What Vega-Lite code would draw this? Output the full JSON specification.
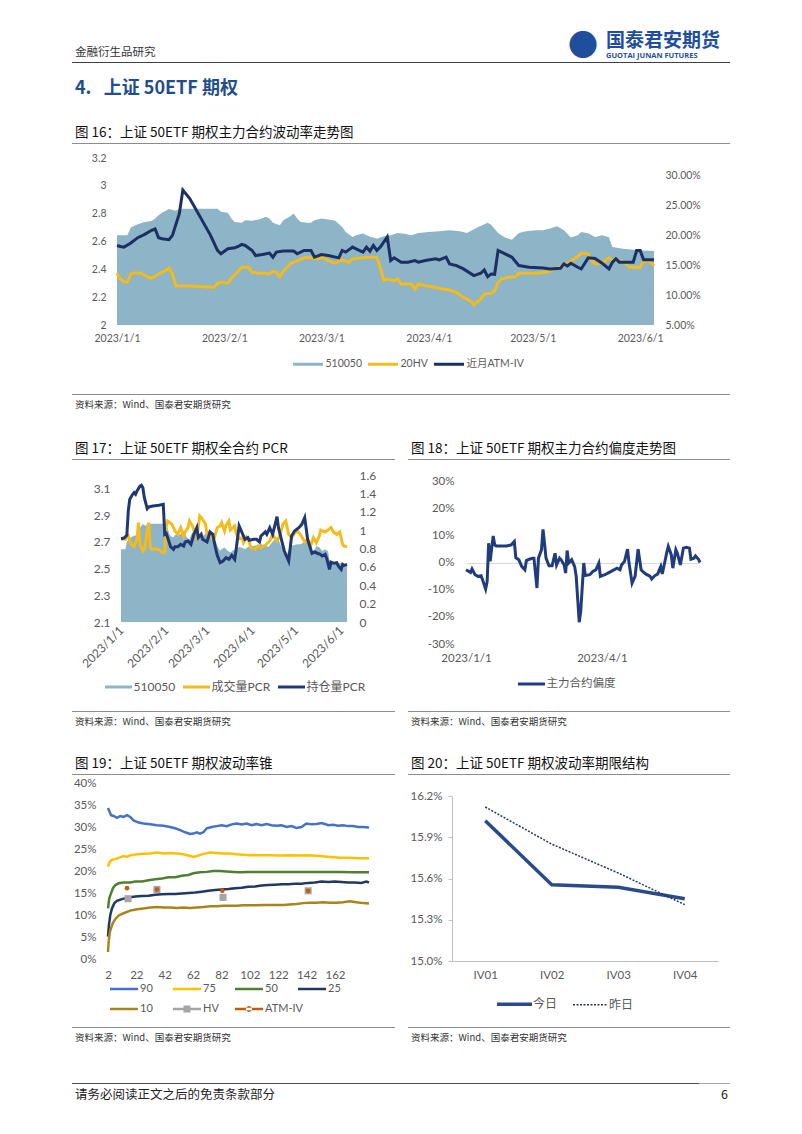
{
"$schema": "https://vega.github.io/schema/vega-lite/v6.json",
"background": "white",
"padding": {"left": 72, "top": 31, "right": 20, "bottom": 10},
"bounds": "flush",
"spacing": 0,
"resolve": {"scale": {"color": "independent", "fill": "independent"}, "legend": {"color": "independent", "fill": "independent"}},
"config": {
 "font": "Lato, 'Noto Sans CJK SC', sans-serif",
 "view": {"stroke": null},
 "axis": {"grid": false, "ticks": false, "domain": false, "labelColor": "#595959", "labelFont": "Lato, 'Noto Sans CJK SC', sans-serif", "labelFlush": false, "labelOverlap": false, "labelBound": false},
 "legend": {"labelColor": "#404040", "labelFont": "Lato, 'Noto Sans CJK SC', sans-serif"},
 "title": {"font": "'Noto Sans CJK SC', sans-serif", "subtitleFont": "'Noto Sans CJK SC', sans-serif", "anchor": "start", "frame": "group", "color": "#111111", "fontWeight": "normal"}
},
"datasets": {
 "etf": [
  {"d":"2023-01-01","v":2.645},{"d":"2023-01-04","v":2.645},{"d":"2023-01-05","v":2.70},{"d":"2023-01-07","v":2.724},{"d":"2023-01-09","v":2.741},{"d":"2023-01-11","v":2.748},{"d":"2023-01-12","v":2.765},{"d":"2023-01-13","v":2.789},{"d":"2023-01-14","v":2.806},{"d":"2023-01-16","v":2.833},{"d":"2023-01-18","v":2.821},{"d":"2023-01-19","v":2.835},{"d":"2023-01-30","v":2.835},{"d":"2023-01-31","v":2.813},
  {"d":"2023-02-02","v":2.806},{"d":"2023-02-03","v":2.765},{"d":"2023-02-04","v":2.741},{"d":"2023-02-06","v":2.734},{"d":"2023-02-07","v":2.753},{"d":"2023-02-09","v":2.75},{"d":"2023-02-11","v":2.758},{"d":"2023-02-13","v":2.777},{"d":"2023-02-14","v":2.765},{"d":"2023-02-15","v":2.734},{"d":"2023-02-17","v":2.717},{"d":"2023-02-18","v":2.753},{"d":"2023-02-20","v":2.782},{"d":"2023-02-21","v":2.801},{"d":"2023-02-22","v":2.765},{"d":"2023-02-23","v":2.741},{"d":"2023-02-25","v":2.734},{"d":"2023-02-26","v":2.734},{"d":"2023-02-27","v":2.753},
  {"d":"2023-03-01","v":2.765},{"d":"2023-03-03","v":2.758},{"d":"2023-03-05","v":2.75},{"d":"2023-03-07","v":2.705},{"d":"2023-03-08","v":2.669},{"d":"2023-03-10","v":2.632},{"d":"2023-03-11","v":2.645},{"d":"2023-03-13","v":2.657},{"d":"2023-03-15","v":2.635},{"d":"2023-03-16","v":2.628},{"d":"2023-03-17","v":2.62},{"d":"2023-03-19","v":2.637},{"d":"2023-03-21","v":2.645},{"d":"2023-03-23","v":2.661},{"d":"2023-03-25","v":2.655},{"d":"2023-03-27","v":2.645},{"d":"2023-03-29","v":2.661},
  {"d":"2023-04-01","v":2.669},{"d":"2023-04-04","v":2.674},{"d":"2023-04-07","v":2.681},{"d":"2023-04-10","v":2.674},{"d":"2023-04-12","v":2.661},{"d":"2023-04-15","v":2.70},{"d":"2023-04-18","v":2.734},{"d":"2023-04-19","v":2.72},{"d":"2023-04-21","v":2.661},{"d":"2023-04-23","v":2.628},{"d":"2023-04-25","v":2.613},{"d":"2023-04-27","v":2.661},{"d":"2023-04-29","v":2.674},
  {"d":"2023-05-02","v":2.681},{"d":"2023-05-04","v":2.681},{"d":"2023-05-06","v":2.693},{"d":"2023-05-08","v":2.71},{"d":"2023-05-10","v":2.681},{"d":"2023-05-12","v":2.628},{"d":"2023-05-14","v":2.645},{"d":"2023-05-15","v":2.669},{"d":"2023-05-17","v":2.66},{"d":"2023-05-19","v":2.632},{"d":"2023-05-21","v":2.645},{"d":"2023-05-23","v":2.63},{"d":"2023-05-24","v":2.56},{"d":"2023-05-27","v":2.548},{"d":"2023-05-30","v":2.541},{"d":"2023-06-02","v":2.536},{"d":"2023-06-05","v":2.531}
 ],
 "c16": [
  {"d":"2023-01-01","s":"20HV","v":0.1367},{"d":"2023-01-02","s":"20HV","v":0.1271},{"d":"2023-01-03","s":"20HV","v":0.1226},{"d":"2023-01-04","s":"20HV","v":0.1215},{"d":"2023-01-05","s":"20HV","v":0.1356},{"d":"2023-01-06","s":"20HV","v":0.1373},{"d":"2023-01-08","s":"20HV","v":0.1367},{"d":"2023-01-09","s":"20HV","v":0.133},{"d":"2023-01-10","s":"20HV","v":0.130},{"d":"2023-01-11","s":"20HV","v":0.1283},{"d":"2023-01-13","s":"20HV","v":0.1356},{"d":"2023-01-15","s":"20HV","v":0.1412},{"d":"2023-01-16","s":"20HV","v":0.1457},{"d":"2023-01-17","s":"20HV","v":0.1356},{"d":"2023-01-18","s":"20HV","v":0.1159},{"d":"2023-01-22","s":"20HV","v":0.1153},{"d":"2023-01-26","s":"20HV","v":0.1142},{"d":"2023-01-29","s":"20HV","v":0.1131},{"d":"2023-01-30","s":"20HV","v":0.1198},{"d":"2023-01-31","s":"20HV","v":0.1215},
  {"d":"2023-02-02","s":"20HV","v":0.120},{"d":"2023-02-03","s":"20HV","v":0.1283},{"d":"2023-02-05","s":"20HV","v":0.140},{"d":"2023-02-06","s":"20HV","v":0.1468},{"d":"2023-02-08","s":"20HV","v":0.1468},{"d":"2023-02-09","s":"20HV","v":0.1384},{"d":"2023-02-11","s":"20HV","v":0.1367},{"d":"2023-02-13","s":"20HV","v":0.1367},{"d":"2023-02-14","s":"20HV","v":0.1356},{"d":"2023-02-15","s":"20HV","v":0.140},{"d":"2023-02-16","s":"20HV","v":0.1384},{"d":"2023-02-17","s":"20HV","v":0.131},{"d":"2023-02-18","s":"20HV","v":0.140},{"d":"2023-02-20","s":"20HV","v":0.1525},{"d":"2023-02-22","s":"20HV","v":0.1581},{"d":"2023-02-24","s":"20HV","v":0.1626},{"d":"2023-02-26","s":"20HV","v":0.1626},{"d":"2023-02-28","s":"20HV","v":0.1609},
  {"d":"2023-03-01","s":"20HV","v":0.1637},{"d":"2023-03-03","s":"20HV","v":0.1581},{"d":"2023-03-05","s":"20HV","v":0.1536},{"d":"2023-03-07","s":"20HV","v":0.1592},{"d":"2023-03-09","s":"20HV","v":0.1553},{"d":"2023-03-10","s":"20HV","v":0.1609},{"d":"2023-03-13","s":"20HV","v":0.1626},{"d":"2023-03-15","s":"20HV","v":0.1637},{"d":"2023-03-17","s":"20HV","v":0.1637},{"d":"2023-03-18","s":"20HV","v":0.1468},{"d":"2023-03-19","s":"20HV","v":0.1243},{"d":"2023-03-20","s":"20HV","v":0.1271},{"d":"2023-03-22","s":"20HV","v":0.1243},{"d":"2023-03-23","s":"20HV","v":0.1271},{"d":"2023-03-24","s":"20HV","v":0.1187},{"d":"2023-03-26","s":"20HV","v":0.1187},{"d":"2023-03-27","s":"20HV","v":0.1187},{"d":"2023-03-28","s":"20HV","v":0.1103},{"d":"2023-03-29","s":"20HV","v":0.1187},{"d":"2023-03-31","s":"20HV","v":0.1159},
  {"d":"2023-04-02","s":"20HV","v":0.1142},{"d":"2023-04-05","s":"20HV","v":0.1103},{"d":"2023-04-07","s":"20HV","v":0.1086},{"d":"2023-04-09","s":"20HV","v":0.1046},{"d":"2023-04-11","s":"20HV","v":0.0962},{"d":"2023-04-13","s":"20HV","v":0.0905},{"d":"2023-04-14","s":"20HV","v":0.0838},{"d":"2023-04-16","s":"20HV","v":0.0933},{"d":"2023-04-17","s":"20HV","v":0.1018},{"d":"2023-04-19","s":"20HV","v":0.103},{"d":"2023-04-20","s":"20HV","v":0.1074},{"d":"2023-04-21","s":"20HV","v":0.1215},{"d":"2023-04-22","s":"20HV","v":0.1271},{"d":"2023-04-24","s":"20HV","v":0.130},{"d":"2023-04-26","s":"20HV","v":0.131},{"d":"2023-04-27","s":"20HV","v":0.1367},{"d":"2023-04-29","s":"20HV","v":0.1367},
  {"d":"2023-05-02","s":"20HV","v":0.1367},{"d":"2023-05-05","s":"20HV","v":0.1384},{"d":"2023-05-08","s":"20HV","v":0.1457},{"d":"2023-05-10","s":"20HV","v":0.1496},{"d":"2023-05-12","s":"20HV","v":0.157},{"d":"2023-05-14","s":"20HV","v":0.1649},{"d":"2023-05-15","s":"20HV","v":0.1705},{"d":"2023-05-17","s":"20HV","v":0.1694},{"d":"2023-05-18","s":"20HV","v":0.1581},{"d":"2023-05-19","s":"20HV","v":0.1525},{"d":"2023-05-21","s":"20HV","v":0.154},{"d":"2023-05-23","s":"20HV","v":0.1626},{"d":"2023-05-24","s":"20HV","v":0.1581},{"d":"2023-05-27","s":"20HV","v":0.157},{"d":"2023-05-29","s":"20HV","v":0.1468},{"d":"2023-06-01","s":"20HV","v":0.1468},{"d":"2023-06-02","s":"20HV","v":0.1581},{"d":"2023-06-04","s":"20HV","v":0.1553},{"d":"2023-06-05","s":"20HV","v":0.1496},
  {"d":"2023-01-01","s":"近月ATM-IV","v":0.1834},{"d":"2023-01-02","s":"近月ATM-IV","v":0.1817},{"d":"2023-01-03","s":"近月ATM-IV","v":0.1806},{"d":"2023-01-05","s":"近月ATM-IV","v":0.1874},{"d":"2023-01-07","s":"近月ATM-IV","v":0.1964},{"d":"2023-01-09","s":"近月ATM-IV","v":0.202},{"d":"2023-01-11","s":"近月ATM-IV","v":0.2088},{"d":"2023-01-12","s":"近月ATM-IV","v":0.211},{"d":"2023-01-13","s":"近月ATM-IV","v":0.1964},{"d":"2023-01-14","s":"近月ATM-IV","v":0.1947},{"d":"2023-01-16","s":"近月ATM-IV","v":0.193},{"d":"2023-01-17","s":"近月ATM-IV","v":0.2003},{"d":"2023-01-19","s":"近月ATM-IV","v":0.2369},{"d":"2023-01-20","s":"近月ATM-IV","v":0.2763},{"d":"2023-01-22","s":"近月ATM-IV","v":0.262},{"d":"2023-01-25","s":"近月ATM-IV","v":0.2313},{"d":"2023-01-28","s":"近月ATM-IV","v":0.2003},{"d":"2023-01-30","s":"近月ATM-IV","v":0.175},{"d":"2023-01-31","s":"近月ATM-IV","v":0.1694},
  {"d":"2023-02-02","s":"近月ATM-IV","v":0.1778},{"d":"2023-02-04","s":"近月ATM-IV","v":0.1795},{"d":"2023-02-05","s":"近月ATM-IV","v":0.1817},{"d":"2023-02-06","s":"近月ATM-IV","v":0.1851},{"d":"2023-02-07","s":"近月ATM-IV","v":0.1834},{"d":"2023-02-09","s":"近月ATM-IV","v":0.175},{"d":"2023-02-10","s":"近月ATM-IV","v":0.1665},{"d":"2023-02-12","s":"近月ATM-IV","v":0.1682},{"d":"2023-02-14","s":"近月ATM-IV","v":0.1705},{"d":"2023-02-15","s":"近月ATM-IV","v":0.1637},{"d":"2023-02-16","s":"近月ATM-IV","v":0.1722},{"d":"2023-02-18","s":"近月ATM-IV","v":0.1739},{"d":"2023-02-21","s":"近月ATM-IV","v":0.1739},{"d":"2023-02-22","s":"近月ATM-IV","v":0.1694},{"d":"2023-02-24","s":"近月ATM-IV","v":0.175},{"d":"2023-02-26","s":"近月ATM-IV","v":0.175},{"d":"2023-02-27","s":"近月ATM-IV","v":0.1637},
  {"d":"2023-03-01","s":"近月ATM-IV","v":0.1682},{"d":"2023-03-03","s":"近月ATM-IV","v":0.1665},{"d":"2023-03-06","s":"近月ATM-IV","v":0.1626},{"d":"2023-03-07","s":"近月ATM-IV","v":0.175},{"d":"2023-03-08","s":"近月ATM-IV","v":0.1722},{"d":"2023-03-10","s":"近月ATM-IV","v":0.1806},{"d":"2023-03-11","s":"近月ATM-IV","v":0.1778},{"d":"2023-03-13","s":"近月ATM-IV","v":0.1722},{"d":"2023-03-14","s":"近月ATM-IV","v":0.1806},{"d":"2023-03-15","s":"近月ATM-IV","v":0.1739},{"d":"2023-03-16","s":"近月ATM-IV","v":0.1834},{"d":"2023-03-17","s":"近月ATM-IV","v":0.175},{"d":"2023-03-18","s":"近月ATM-IV","v":0.1806},{"d":"2023-03-20","s":"近月ATM-IV","v":0.1975},{"d":"2023-03-21","s":"近月ATM-IV","v":0.1581},{"d":"2023-03-22","s":"近月ATM-IV","v":0.1626},{"d":"2023-03-24","s":"近月ATM-IV","v":0.1553},{"d":"2023-03-26","s":"近月ATM-IV","v":0.1553},{"d":"2023-03-28","s":"近月ATM-IV","v":0.1581},{"d":"2023-03-29","s":"近月ATM-IV","v":0.1553},{"d":"2023-03-31","s":"近月ATM-IV","v":0.1581},
  {"d":"2023-04-03","s":"近月ATM-IV","v":0.1609},{"d":"2023-04-04","s":"近月ATM-IV","v":0.1592},{"d":"2023-04-06","s":"近月ATM-IV","v":0.1637},{"d":"2023-04-07","s":"近月ATM-IV","v":0.1525},{"d":"2023-04-09","s":"近月ATM-IV","v":0.1496},{"d":"2023-04-11","s":"近月ATM-IV","v":0.144},{"d":"2023-04-14","s":"近月ATM-IV","v":0.1328},{"d":"2023-04-16","s":"近月ATM-IV","v":0.1367},{"d":"2023-04-17","s":"近月ATM-IV","v":0.1423},{"d":"2023-04-18","s":"近月ATM-IV","v":0.131},{"d":"2023-04-19","s":"近月ATM-IV","v":0.1356},{"d":"2023-04-20","s":"近月ATM-IV","v":0.135},{"d":"2023-04-21","s":"近月ATM-IV","v":0.175},{"d":"2023-04-23","s":"近月ATM-IV","v":0.1694},{"d":"2023-04-25","s":"近月ATM-IV","v":0.1637},{"d":"2023-04-27","s":"近月ATM-IV","v":0.1496},{"d":"2023-04-30","s":"近月ATM-IV","v":0.1468},
  {"d":"2023-05-04","s":"近月ATM-IV","v":0.1457},{"d":"2023-05-06","s":"近月ATM-IV","v":0.144},{"d":"2023-05-09","s":"近月ATM-IV","v":0.145},{"d":"2023-05-10","s":"近月ATM-IV","v":0.1525},{"d":"2023-05-11","s":"近月ATM-IV","v":0.149},{"d":"2023-05-12","s":"近月ATM-IV","v":0.1536},{"d":"2023-05-14","s":"近月ATM-IV","v":0.1468},{"d":"2023-05-15","s":"近月ATM-IV","v":0.144},{"d":"2023-05-17","s":"近月ATM-IV","v":0.1626},{"d":"2023-05-19","s":"近月ATM-IV","v":0.1615},{"d":"2023-05-21","s":"近月ATM-IV","v":0.1536},{"d":"2023-05-23","s":"近月ATM-IV","v":0.144},{"d":"2023-05-24","s":"近月ATM-IV","v":0.1553},{"d":"2023-05-25","s":"近月ATM-IV","v":0.1609},{"d":"2023-05-26","s":"近月ATM-IV","v":0.1553},{"d":"2023-05-30","s":"近月ATM-IV","v":0.1553},{"d":"2023-05-31","s":"近月ATM-IV","v":0.175},{"d":"2023-06-01","s":"近月ATM-IV","v":0.175},{"d":"2023-06-02","s":"近月ATM-IV","v":0.1592},{"d":"2023-06-05","s":"近月ATM-IV","v":0.1592}
 ],
 "c17": [
  {"d":"2023-01-01","s":"成交量PCR","v":0.907},{"d":"2023-01-04","s":"成交量PCR","v":0.900},{"d":"2023-01-06","s":"成交量PCR","v":0.936},{"d":"2023-01-08","s":"成交量PCR","v":0.845},{"d":"2023-01-10","s":"成交量PCR","v":0.820},{"d":"2023-01-12","s":"成交量PCR","v":0.907},{"d":"2023-01-13","s":"成交量PCR","v":1.081},{"d":"2023-01-14","s":"成交量PCR","v":0.845},{"d":"2023-01-16","s":"成交量PCR","v":0.773},{"d":"2023-01-17","s":"成交量PCR","v":0.791},{"d":"2023-01-19","s":"成交量PCR","v":0.990},{"d":"2023-01-20","s":"成交量PCR","v":1.081},{"d":"2023-01-21","s":"成交量PCR","v":0.820},{"d":"2023-01-22","s":"成交量PCR","v":0.791},{"d":"2023-01-24","s":"成交量PCR","v":0.798},{"d":"2023-01-27","s":"成交量PCR","v":0.784},{"d":"2023-01-29","s":"成交量PCR","v":0.762},{"d":"2023-01-31","s":"成交量PCR","v":0.755},
  {"d":"2023-02-01","s":"成交量PCR","v":1.045},{"d":"2023-02-02","s":"成交量PCR","v":1.099},{"d":"2023-02-05","s":"成交量PCR","v":1.063},{"d":"2023-02-07","s":"成交量PCR","v":0.990},{"d":"2023-02-09","s":"成交量PCR","v":0.954},{"d":"2023-02-11","s":"成交量PCR","v":1.027},{"d":"2023-02-13","s":"成交量PCR","v":0.936},{"d":"2023-02-14","s":"成交量PCR","v":0.980},{"d":"2023-02-16","s":"成交量PCR","v":1.027},{"d":"2023-02-17","s":"成交量PCR","v":1.099},{"d":"2023-02-19","s":"成交量PCR","v":1.045},{"d":"2023-02-21","s":"成交量PCR","v":0.954},{"d":"2023-02-22","s":"成交量PCR","v":0.918},{"d":"2023-02-24","s":"成交量PCR","v":1.154},{"d":"2023-02-26","s":"成交量PCR","v":1.117},{"d":"2023-02-28","s":"成交量PCR","v":1.063},
  {"d":"2023-03-01","s":"成交量PCR","v":0.954},{"d":"2023-03-03","s":"成交量PCR","v":0.936},{"d":"2023-03-05","s":"成交量PCR","v":0.900},{"d":"2023-03-06","s":"成交量PCR","v":0.918},{"d":"2023-03-08","s":"成交量PCR","v":1.027},{"d":"2023-03-10","s":"成交量PCR","v":1.045},{"d":"2023-03-11","s":"成交量PCR","v":1.081},{"d":"2023-03-13","s":"成交量PCR","v":0.990},{"d":"2023-03-14","s":"成交量PCR","v":1.052},{"d":"2023-03-16","s":"成交量PCR","v":1.099},{"d":"2023-03-17","s":"成交量PCR","v":1.001},{"d":"2023-03-20","s":"成交量PCR","v":1.045},{"d":"2023-03-21","s":"成交量PCR","v":0.965},{"d":"2023-03-23","s":"成交量PCR","v":0.907},{"d":"2023-03-25","s":"成交量PCR","v":0.918},{"d":"2023-03-26","s":"成交量PCR","v":0.863},{"d":"2023-03-28","s":"成交量PCR","v":0.925},{"d":"2023-03-30","s":"成交量PCR","v":0.871},{"d":"2023-03-31","s":"成交量PCR","v":0.809},
  {"d":"2023-04-03","s":"成交量PCR","v":0.791},{"d":"2023-04-05","s":"成交量PCR","v":0.827},{"d":"2023-04-07","s":"成交量PCR","v":0.809},{"d":"2023-04-10","s":"成交量PCR","v":0.834},{"d":"2023-04-13","s":"成交量PCR","v":0.882},{"d":"2023-04-15","s":"成交量PCR","v":0.954},{"d":"2023-04-18","s":"成交量PCR","v":0.882},{"d":"2023-04-20","s":"成交量PCR","v":0.943},{"d":"2023-04-22","s":"成交量PCR","v":1.063},{"d":"2023-04-24","s":"成交量PCR","v":1.099},{"d":"2023-04-26","s":"成交量PCR","v":0.954},{"d":"2023-04-28","s":"成交量PCR","v":0.918},{"d":"2023-04-30","s":"成交量PCR","v":0.965},
  {"d":"2023-05-02","s":"成交量PCR","v":0.990},{"d":"2023-05-04","s":"成交量PCR","v":0.954},{"d":"2023-05-07","s":"成交量PCR","v":0.871},{"d":"2023-05-09","s":"成交量PCR","v":0.900},{"d":"2023-05-11","s":"成交量PCR","v":0.827},{"d":"2023-05-13","s":"成交量PCR","v":0.918},{"d":"2023-05-15","s":"成交量PCR","v":0.863},{"d":"2023-05-17","s":"成交量PCR","v":0.936},{"d":"2023-05-18","s":"成交量PCR","v":1.001},{"d":"2023-05-21","s":"成交量PCR","v":0.980},{"d":"2023-05-23","s":"成交量PCR","v":1.001},{"d":"2023-05-25","s":"成交量PCR","v":1.027},{"d":"2023-05-27","s":"成交量PCR","v":0.973},{"d":"2023-05-29","s":"成交量PCR","v":0.954},{"d":"2023-05-31","s":"成交量PCR","v":0.980},{"d":"2023-06-02","s":"成交量PCR","v":0.845},{"d":"2023-06-03","s":"成交量PCR","v":0.827},{"d":"2023-06-05","s":"成交量PCR","v":0.820},
  {"d":"2023-01-01","s":"持仓量PCR","v":0.907},{"d":"2023-01-03","s":"持仓量PCR","v":0.914},{"d":"2023-01-05","s":"持仓量PCR","v":0.943},{"d":"2023-01-06","s":"持仓量PCR","v":1.208},{"d":"2023-01-07","s":"持仓量PCR","v":1.335},{"d":"2023-01-09","s":"持仓量PCR","v":1.390},{"d":"2023-01-10","s":"持仓量PCR","v":1.408},{"d":"2023-01-11","s":"持仓量PCR","v":1.390},{"d":"2023-01-12","s":"持仓量PCR","v":1.426},{"d":"2023-01-14","s":"持仓量PCR","v":1.480},{"d":"2023-01-15","s":"持仓量PCR","v":1.488},{"d":"2023-01-16","s":"持仓量PCR","v":1.462},{"d":"2023-01-17","s":"持仓量PCR","v":1.353},{"d":"2023-01-19","s":"持仓量PCR","v":1.234},{"d":"2023-01-20","s":"持仓量PCR","v":1.252},{"d":"2023-01-23","s":"持仓量PCR","v":1.263},{"d":"2023-01-27","s":"持仓量PCR","v":1.270},{"d":"2023-01-30","s":"持仓量PCR","v":1.281},{"d":"2023-01-31","s":"持仓量PCR","v":0.954},
  {"d":"2023-02-01","s":"持仓量PCR","v":0.965},{"d":"2023-02-03","s":"持仓量PCR","v":0.871},{"d":"2023-02-04","s":"持仓量PCR","v":0.820},{"d":"2023-02-06","s":"持仓量PCR","v":0.791},{"d":"2023-02-07","s":"持仓量PCR","v":0.820},{"d":"2023-02-09","s":"持仓量PCR","v":0.820},{"d":"2023-02-11","s":"持仓量PCR","v":0.845},{"d":"2023-02-13","s":"持仓量PCR","v":0.827},{"d":"2023-02-14","s":"持仓量PCR","v":0.871},{"d":"2023-02-16","s":"持仓量PCR","v":0.882},{"d":"2023-02-18","s":"持仓量PCR","v":0.845},{"d":"2023-02-20","s":"持仓量PCR","v":0.954},{"d":"2023-02-22","s":"持仓量PCR","v":1.027},{"d":"2023-02-23","s":"持仓量PCR","v":0.918},{"d":"2023-02-25","s":"持仓量PCR","v":0.954},{"d":"2023-02-26","s":"持仓量PCR","v":0.900},
  {"d":"2023-03-01","s":"持仓量PCR","v":0.871},{"d":"2023-03-03","s":"持仓量PCR","v":0.980},{"d":"2023-03-05","s":"持仓量PCR","v":0.954},{"d":"2023-03-06","s":"持仓量PCR","v":0.863},{"d":"2023-03-08","s":"持仓量PCR","v":0.726},{"d":"2023-03-10","s":"持仓量PCR","v":0.646},{"d":"2023-03-12","s":"持仓量PCR","v":0.664},{"d":"2023-03-14","s":"持仓量PCR","v":0.700},{"d":"2023-03-16","s":"持仓量PCR","v":0.682},{"d":"2023-03-18","s":"持仓量PCR","v":0.726},{"d":"2023-03-20","s":"持仓量PCR","v":0.682},{"d":"2023-03-21","s":"持仓量PCR","v":0.791},{"d":"2023-03-23","s":"持仓量PCR","v":1.045},{"d":"2023-03-25","s":"持仓量PCR","v":0.972},{"d":"2023-03-27","s":"持仓量PCR","v":0.900},{"d":"2023-03-29","s":"持仓量PCR","v":0.918},{"d":"2023-03-30","s":"持仓量PCR","v":0.889},
  {"d":"2023-04-02","s":"持仓量PCR","v":0.900},{"d":"2023-04-04","s":"持仓量PCR","v":0.900},{"d":"2023-04-06","s":"持仓量PCR","v":0.871},{"d":"2023-04-07","s":"持仓量PCR","v":0.936},{"d":"2023-04-10","s":"持仓量PCR","v":0.980},{"d":"2023-04-11","s":"持仓量PCR","v":0.954},{"d":"2023-04-13","s":"持仓量PCR","v":1.027},{"d":"2023-04-15","s":"持仓量PCR","v":0.954},{"d":"2023-04-18","s":"持仓量PCR","v":1.146},{"d":"2023-04-19","s":"持仓量PCR","v":1.027},{"d":"2023-04-21","s":"持仓量PCR","v":0.900},{"d":"2023-04-23","s":"持仓量PCR","v":0.773},{"d":"2023-04-26","s":"持仓量PCR","v":0.664},{"d":"2023-04-28","s":"持仓量PCR","v":0.936},{"d":"2023-04-30","s":"持仓量PCR","v":0.990},
  {"d":"2023-05-03","s":"持仓量PCR","v":1.027},{"d":"2023-05-05","s":"持仓量PCR","v":1.063},{"d":"2023-05-07","s":"持仓量PCR","v":1.136},{"d":"2023-05-09","s":"持仓量PCR","v":0.900},{"d":"2023-05-12","s":"持仓量PCR","v":0.747},{"d":"2023-05-14","s":"持仓量PCR","v":0.762},{"d":"2023-05-16","s":"持仓量PCR","v":0.744},{"d":"2023-05-17","s":"持仓量PCR","v":0.744},{"d":"2023-05-19","s":"持仓量PCR","v":0.718},{"d":"2023-05-21","s":"持仓量PCR","v":0.736},{"d":"2023-05-22","s":"持仓量PCR","v":0.697},{"d":"2023-05-24","s":"持仓量PCR","v":0.573},{"d":"2023-05-25","s":"持仓量PCR","v":0.653},{"d":"2023-05-27","s":"持仓量PCR","v":0.639},{"d":"2023-05-29","s":"持仓量PCR","v":0.646},{"d":"2023-05-30","s":"持仓量PCR","v":0.610},{"d":"2023-06-01","s":"持仓量PCR","v":0.573},{"d":"2023-06-02","s":"持仓量PCR","v":0.628},{"d":"2023-06-03","s":"持仓量PCR","v":0.617},{"d":"2023-06-05","s":"持仓量PCR","v":0.628}
 ],
 "c18": [
  {"d":"2023-01-01","v":-0.027},{"d":"2023-01-03","v":-0.033},{"d":"2023-01-04","v":-0.037},{"d":"2023-01-05","v":-0.024},{"d":"2023-01-07","v":-0.045},{"d":"2023-01-09","v":-0.051},{"d":"2023-01-11","v":-0.049},{"d":"2023-01-12","v":-0.064},{"d":"2023-01-14","v":-0.098},{"d":"2023-01-15","v":-0.07},{"d":"2023-01-16","v":0.071},{"d":"2023-01-17","v":0.004},{"d":"2023-01-19","v":0.098},{"d":"2023-01-20","v":0.065},{"d":"2023-01-21","v":0.061},{"d":"2023-01-28","v":0.061},{"d":"2023-01-31","v":0.065},
  {"d":"2023-02-02","v":0.077},{"d":"2023-02-03","v":0.018},{"d":"2023-02-05","v":0.01},{"d":"2023-02-07","v":-0.015},{"d":"2023-02-09","v":-0.027},{"d":"2023-02-10","v":0.007},{"d":"2023-02-12","v":0.012},{"d":"2023-02-14","v":0.016},{"d":"2023-02-15","v":0.016},{"d":"2023-02-17","v":-0.094},{"d":"2023-02-18","v":0.016},{"d":"2023-02-20","v":0.047},{"d":"2023-02-21","v":0.122},{"d":"2023-02-22","v":0.071},{"d":"2023-02-23","v":0.016},{"d":"2023-02-25","v":-0.012},{"d":"2023-02-27","v":-0.012},
  {"d":"2023-03-01","v":0.034},{"d":"2023-03-02","v":-0.009},{"d":"2023-03-04","v":0.016},{"d":"2023-03-05","v":0.01},{"d":"2023-03-07","v":-0.009},{"d":"2023-03-08","v":-0.039},{"d":"2023-03-09","v":0.044},{"d":"2023-03-10","v":-0.002},{"d":"2023-03-12","v":0.01},{"d":"2023-03-14","v":-0.015},{"d":"2023-03-15","v":-0.051},{"d":"2023-03-17","v":-0.22},{"d":"2023-03-18","v":-0.18},{"d":"2023-03-20","v":-0.002},{"d":"2023-03-21","v":-0.048},{"d":"2023-03-24","v":-0.045},{"d":"2023-03-26","v":-0.033},{"d":"2023-03-28","v":-0.027},{"d":"2023-03-30","v":-0.002},{"d":"2023-03-31","v":-0.051},
  {"d":"2023-04-03","v":-0.045},{"d":"2023-04-05","v":-0.039},{"d":"2023-04-09","v":-0.027},{"d":"2023-04-11","v":-0.021},{"d":"2023-04-13","v":-0.027},{"d":"2023-04-14","v":-0.009},{"d":"2023-04-16","v":0.004},{"d":"2023-04-18","v":0.049},{"d":"2023-04-19","v":-0.002},{"d":"2023-04-20","v":-0.039},{"d":"2023-04-21","v":-0.076},{"d":"2023-04-23","v":-0.051},{"d":"2023-04-25","v":0.049},{"d":"2023-04-27","v":-0.027},{"d":"2023-04-28","v":-0.033},{"d":"2023-04-30","v":-0.042},
  {"d":"2023-05-03","v":-0.051},{"d":"2023-05-04","v":-0.061},{"d":"2023-05-06","v":-0.049},{"d":"2023-05-08","v":-0.042},{"d":"2023-05-10","v":-0.015},{"d":"2023-05-11","v":-0.042},{"d":"2023-05-13","v":0.01},{"d":"2023-05-14","v":0.037},{"d":"2023-05-15","v":0.059},{"d":"2023-05-17","v":0.028},{"d":"2023-05-18","v":-0.021},{"d":"2023-05-20","v":0.047},{"d":"2023-05-21","v":0.034},{"d":"2023-05-23","v":-0.009},{"d":"2023-05-25","v":0.053},{"d":"2023-05-27","v":0.056},{"d":"2023-05-29","v":0.053},{"d":"2023-05-30","v":0.012},{"d":"2023-06-01","v":0.016},{"d":"2023-06-02","v":0.024},{"d":"2023-06-04","v":0.012},{"d":"2023-06-05","v":0.0}
 ],
 "c19": [
  {"x":2,"s":"90","v":0.343},{"x":3.2,"s":"90","v":0.334},{"x":4.1,"s":"90","v":0.327},{"x":6,"s":"90","v":0.325},{"x":8.3,"s":"90","v":0.321},{"x":10.7,"s":"90","v":0.325},{"x":13,"s":"90","v":0.323},{"x":15.4,"s":"90","v":0.327},{"x":17.7,"s":"90","v":0.323},{"x":20,"s":"90","v":0.315},{"x":23.6,"s":"90","v":0.31},{"x":27.1,"s":"90","v":0.308},{"x":31.8,"s":"90","v":0.306},{"x":36.5,"s":"90","v":0.304},{"x":41.1,"s":"90","v":0.303},{"x":45.8,"s":"90","v":0.30},{"x":49.3,"s":"90","v":0.297},{"x":52.9,"s":"90","v":0.293},{"x":56.4,"s":"90","v":0.288},{"x":59.9,"s":"90","v":0.284},{"x":62.2,"s":"90","v":0.285},{"x":64.6,"s":"90","v":0.288},{"x":66.9,"s":"90","v":0.285},{"x":69.3,"s":"90","v":0.288},{"x":71.6,"s":"90","v":0.297},{"x":75.1,"s":"90","v":0.30},{"x":78.6,"s":"90","v":0.302},{"x":82.2,"s":"90","v":0.304},{"x":85.7,"s":"90","v":0.302},{"x":89.2,"s":"90","v":0.306},{"x":92.7,"s":"90","v":0.308},{"x":96.2,"s":"90","v":0.306},{"x":99.7,"s":"90","v":0.308},{"x":103.3,"s":"90","v":0.304},{"x":106.8,"s":"90","v":0.307},{"x":110.3,"s":"90","v":0.304},{"x":113.8,"s":"90","v":0.307},{"x":117.3,"s":"90","v":0.304},{"x":120.8,"s":"90","v":0.303},{"x":124.4,"s":"90","v":0.304},{"x":127.9,"s":"90","v":0.30},{"x":131.4,"s":"90","v":0.302},{"x":134.9,"s":"90","v":0.298},{"x":138.4,"s":"90","v":0.30},{"x":141.9,"s":"90","v":0.308},{"x":145.5,"s":"90","v":0.306},{"x":149,"s":"90","v":0.307},{"x":152.5,"s":"90","v":0.309},{"x":154.8,"s":"90","v":0.307},{"x":157.2,"s":"90","v":0.304},{"x":160.7,"s":"90","v":0.305},{"x":164.2,"s":"90","v":0.303},{"x":167.7,"s":"90","v":0.304},{"x":171.2,"s":"90","v":0.302},{"x":174.8,"s":"90","v":0.302},{"x":178.3,"s":"90","v":0.30},{"x":181.8,"s":"90","v":0.30},{"x":186,"s":"90","v":0.299},
  {"x":2,"s":"75","v":0.21},{"x":3.2,"s":"75","v":0.221},{"x":4.8,"s":"75","v":0.225},{"x":7.2,"s":"75","v":0.227},{"x":9.5,"s":"75","v":0.23},{"x":13,"s":"75","v":0.234},{"x":15.4,"s":"75","v":0.232},{"x":17.7,"s":"75","v":0.236},{"x":22.4,"s":"75","v":0.238},{"x":27.1,"s":"75","v":0.239},{"x":31.8,"s":"75","v":0.24},{"x":36.5,"s":"75","v":0.242},{"x":41.1,"s":"75","v":0.24},{"x":45.8,"s":"75","v":0.241},{"x":50.5,"s":"75","v":0.24},{"x":55.2,"s":"75","v":0.238},{"x":59.9,"s":"75","v":0.234},{"x":62.2,"s":"75","v":0.232},{"x":64.6,"s":"75","v":0.234},{"x":69.3,"s":"75","v":0.239},{"x":74,"s":"75","v":0.242},{"x":78.6,"s":"75","v":0.241},{"x":83.3,"s":"75","v":0.24},{"x":88,"s":"75","v":0.24},{"x":92.7,"s":"75","v":0.238},{"x":97.4,"s":"75","v":0.237},{"x":102.1,"s":"75","v":0.236},{"x":109.1,"s":"75","v":0.236},{"x":116.2,"s":"75","v":0.236},{"x":123.2,"s":"75","v":0.235},{"x":130.2,"s":"75","v":0.236},{"x":137.3,"s":"75","v":0.235},{"x":144.3,"s":"75","v":0.236},{"x":151.3,"s":"75","v":0.234},{"x":158.3,"s":"75","v":0.232},{"x":165.4,"s":"75","v":0.23},{"x":172.4,"s":"75","v":0.23},{"x":179.4,"s":"75","v":0.229},{"x":186,"s":"75","v":0.229},
  {"x":2,"s":"50","v":0.115},{"x":2.9,"s":"50","v":0.138},{"x":4.1,"s":"50","v":0.149},{"x":5.5,"s":"50","v":0.161},{"x":7.2,"s":"50","v":0.168},{"x":9.5,"s":"50","v":0.172},{"x":13,"s":"50","v":0.174},{"x":17.7,"s":"50","v":0.174},{"x":21.2,"s":"50","v":0.176},{"x":25.9,"s":"50","v":0.176},{"x":30.6,"s":"50","v":0.179},{"x":35.3,"s":"50","v":0.181},{"x":40,"s":"50","v":0.183},{"x":44.7,"s":"50","v":0.186},{"x":49.3,"s":"50","v":0.186},{"x":54,"s":"50","v":0.189},{"x":58.7,"s":"50","v":0.191},{"x":62.2,"s":"50","v":0.195},{"x":66.9,"s":"50","v":0.197},{"x":71.6,"s":"50","v":0.198},{"x":76.3,"s":"50","v":0.20},{"x":81,"s":"50","v":0.20},{"x":85.7,"s":"50","v":0.199},{"x":90.4,"s":"50","v":0.198},{"x":95.1,"s":"50","v":0.197},{"x":99.7,"s":"50","v":0.198},{"x":109.1,"s":"50","v":0.198},{"x":118.5,"s":"50","v":0.198},{"x":127.9,"s":"50","v":0.198},{"x":137.3,"s":"50","v":0.198},{"x":146.6,"s":"50","v":0.198},{"x":156,"s":"50","v":0.198},{"x":165.4,"s":"50","v":0.198},{"x":174.8,"s":"50","v":0.197},{"x":186,"s":"50","v":0.197},
  {"x":2,"s":"25","v":0.051},{"x":2.7,"s":"25","v":0.078},{"x":3.6,"s":"25","v":0.10},{"x":4.8,"s":"25","v":0.115},{"x":6.5,"s":"25","v":0.127},{"x":8.3,"s":"25","v":0.132},{"x":11.8,"s":"25","v":0.136},{"x":16.5,"s":"25","v":0.14},{"x":21.2,"s":"25","v":0.142},{"x":25.9,"s":"25","v":0.143},{"x":30.6,"s":"25","v":0.144},{"x":35.3,"s":"25","v":0.146},{"x":40,"s":"25","v":0.147},{"x":44.7,"s":"25","v":0.148},{"x":49.3,"s":"25","v":0.148},{"x":54,"s":"25","v":0.149},{"x":58.7,"s":"25","v":0.15},{"x":63.4,"s":"25","v":0.151},{"x":68.1,"s":"25","v":0.153},{"x":72.8,"s":"25","v":0.155},{"x":77.5,"s":"25","v":0.157},{"x":82.2,"s":"25","v":0.158},{"x":86.9,"s":"25","v":0.159},{"x":91.5,"s":"25","v":0.161},{"x":96.2,"s":"25","v":0.162},{"x":100.9,"s":"25","v":0.164},{"x":105.6,"s":"25","v":0.165},{"x":110.3,"s":"25","v":0.167},{"x":115,"s":"25","v":0.168},{"x":119.7,"s":"25","v":0.169},{"x":124.4,"s":"25","v":0.17},{"x":129,"s":"25","v":0.17},{"x":133.7,"s":"25","v":0.171},{"x":138.4,"s":"25","v":0.171},{"x":143.1,"s":"25","v":0.173},{"x":147.8,"s":"25","v":0.174},{"x":152.5,"s":"25","v":0.176},{"x":157.2,"s":"25","v":0.175},{"x":161.9,"s":"25","v":0.176},{"x":166.5,"s":"25","v":0.175},{"x":171.2,"s":"25","v":0.174},{"x":175.9,"s":"25","v":0.174},{"x":180.6,"s":"25","v":0.173},{"x":184.1,"s":"25","v":0.176},{"x":186,"s":"25","v":0.174},
  {"x":2,"s":"10","v":0.016},{"x":2.5,"s":"10","v":0.04},{"x":3.2,"s":"10","v":0.059},{"x":4.1,"s":"10","v":0.07},{"x":5.5,"s":"10","v":0.082},{"x":7.2,"s":"10","v":0.091},{"x":9.5,"s":"10","v":0.099},{"x":13,"s":"10","v":0.104},{"x":17.7,"s":"10","v":0.11},{"x":22.4,"s":"10","v":0.113},{"x":27.1,"s":"10","v":0.115},{"x":31.8,"s":"10","v":0.117},{"x":36.5,"s":"10","v":0.118},{"x":41.1,"s":"10","v":0.117},{"x":45.8,"s":"10","v":0.117},{"x":50.5,"s":"10","v":0.116},{"x":55.2,"s":"10","v":0.117},{"x":59.9,"s":"10","v":0.116},{"x":64.6,"s":"10","v":0.117},{"x":69.3,"s":"10","v":0.118},{"x":74,"s":"10","v":0.12},{"x":78.6,"s":"10","v":0.12},{"x":83.3,"s":"10","v":0.121},{"x":88,"s":"10","v":0.121},{"x":92.7,"s":"10","v":0.121},{"x":97.4,"s":"10","v":0.122},{"x":102.1,"s":"10","v":0.122},{"x":106.8,"s":"10","v":0.122},{"x":111.5,"s":"10","v":0.123},{"x":116.2,"s":"10","v":0.123},{"x":120.8,"s":"10","v":0.123},{"x":125.5,"s":"10","v":0.123},{"x":130.2,"s":"10","v":0.124},{"x":134.9,"s":"10","v":0.125},{"x":139.6,"s":"10","v":0.127},{"x":144.3,"s":"10","v":0.128},{"x":149,"s":"10","v":0.128},{"x":153.7,"s":"10","v":0.129},{"x":158.3,"s":"10","v":0.128},{"x":163,"s":"10","v":0.128},{"x":167.7,"s":"10","v":0.129},{"x":172.4,"s":"10","v":0.131},{"x":177.1,"s":"10","v":0.129},{"x":181.8,"s":"10","v":0.127},{"x":186,"s":"10","v":0.126}
 ],
 "c19p": [
  {"x":16.1,"s":"HV","v":0.137},{"x":36.5,"s":"HV","v":0.158},{"x":83.1,"s":"HV","v":0.14},{"x":143.1,"s":"HV","v":0.155},
  {"x":15.4,"s":"ATM-IV","v":0.161},{"x":36.5,"s":"ATM-IV","v":0.158},{"x":82.6,"s":"ATM-IV","v":0.155},{"x":143.1,"s":"ATM-IV","v":0.155}
 ],
 "c20": [
  {"k":"IV01","s":"今日","v":0.1602},{"k":"IV02","s":"今日","v":0.15555},{"k":"IV03","s":"今日","v":0.15536},{"k":"IV04","s":"今日","v":0.15453},
  {"k":"IV01","s":"昨日","v":0.1612},{"k":"IV02","s":"昨日","v":0.1585},{"k":"IV03","s":"昨日","v":0.1564},{"k":"IV04","s":"昨日","v":0.1541}
 ]
},
"vconcat": [
 {"hconcat": [
   {"width": 498, "height": 1, "data": {"values": []}, "mark": "point", "view": {"fill": "#404040", "stroke": null},
    "title": {"text": "金融衍生品研究", "fontSize": 11.5, "color": "#333333", "offset": 4, "dx": 3}},
   {"width": 34, "height": 1, "data": {"values": []}, "mark": "point", "view": {"fill": "#404040", "stroke": null},
    "title": {"text": "●", "fontSize": 30, "color": "#1f4f9c", "offset": 0, "dx": -2}},
   {"width": 126, "height": 1, "data": {"values": []}, "mark": "point", "view": {"fill": "#404040", "stroke": null},
    "title": {"text": "国泰君安期货", "subtitle": "GUOTAI JUNAN FUTURES", "fontSize": 19, "fontWeight": "bold", "color": "#1f4f9c", "subtitleFontSize": 7.5, "subtitleFont": "'Open Sans', sans-serif", "subtitleFontWeight": "bold", "subtitleColor": "#1f4f9c", "subtitlePadding": 1, "offset": 3, "dx": 2}}
  ], "spacing": 0, "bounds": "flush"},
 {"width": 1, "height": 81, "data": {"values": []}, "mark": "point"},
 {"width": 658, "height": 1, "data": {"values": []}, "mark": "point", "view": {"fill": "#8c8c8c", "stroke": null},
  "title": {"text": "4.\u00a0\u00a0\u00a0上证 50ETF 期权", "subtitle": "图 16：上证 50ETF 期权主力合约波动率走势图", "fontSize": 18, "fontWeight": "bold", "color": "#1f4e8c", "subtitleFontSize": 13.5, "subtitleColor": "#111111", "subtitlePadding": 28, "offset": 4, "dx": 3}},
 {"width": 1, "height": 14, "data": {"values": []}, "mark": "point"},
 {"hconcat": [
   {"width": 45, "height": 1, "data": {"values": []}, "mark": "point"},
   {"width": 537, "height": 167,
    "resolve": {"scale": {"y": "independent"}},
    "layer": [
     {"data": {"name": "etf"}, "mark": {"type": "area", "opacity": 1},
      "encoding": {
       "x": {"field": "d", "type": "temporal", "scale": {"type": "utc", "domain": [{"year":2023,"month":1,"date":1,"utc":true},{"year":2023,"month":6,"date":5,"utc":true}]},
             "axis": {"title": null, "labelOverlap": false, "values": [{"year":2023,"month":1,"date":1,"utc":true},{"year":2023,"month":2,"date":1,"utc":true},{"year":2023,"month":3,"date":1,"utc":true},{"year":2023,"month":4,"date":1,"utc":true},{"year":2023,"month":5,"date":1,"utc":true},{"year":2023,"month":6,"date":1,"utc":true}],
                      "labelExpr": "utcFormat(datum.value, '%Y/%-m/%-d')", "labelFontSize": 10.5, "labelPadding": 8}},
       "y": {"field": "v", "type": "quantitative", "scale": {"domain": [2, 3.2], "zero": false, "nice": false},
             "axis": {"title": null, "labelOverlap": false, "values": [2, 2.2, 2.4, 2.6, 2.8, 3, 3.2], "format": "~g", "labelFontSize": 10.5, "labelPadding": 11}},
       "y2": {"datum": 2},
       "color": {"datum": "510050", "type": "nominal", "title": null, "scale": {"domain": ["510050", "20HV", "近月ATM-IV"], "range": ["#8db4c7", "#f3bb1c", "#1b2f63"]},
                 "legend": {"title": null, "orient": "none", "legendX": 174.5, "legendY": 189.5, "direction": "horizontal", "symbolType": "stroke", "symbolSize": 900, "symbolStrokeWidth": 3, "labelFontSize": 10.5, "labelColor": "#595959", "columnPadding": -1, "labelOffset": 1,
                   "encode": {"symbols": {"update": {"opacity": {"value": 1}, "strokeWidth": {"value": 3},
                     "shape": {"signal": "(datum.value === '510050' ? 'M-0.9,-0.1H0.9V0.1H-0.9Z' : 'stroke')"},
                     "fill": {"signal": "(datum.value === '510050' ? '#8db4c7' : 'transparent')"},
                     "stroke": {"signal": "(datum.value === '510050' ? '#8db4c7' : datum.value === '20HV' ? '#f3bb1c' : '#1b2f63')"}}}}}}
      }},
     {"data": {"name": "c16"}, "mark": {"type": "line", "strokeWidth": 3},
      "encoding": {
       "x": {"field": "d", "type": "temporal"},
       "y": {"field": "v", "type": "quantitative", "scale": {"domain": [0.05, 0.33], "zero": false, "nice": false},
             "axis": {"title": null, "labelOverlap": false, "orient": "right", "values": [0.05, 0.1, 0.15, 0.2, 0.25, 0.3], "format": ".2%", "labelFontSize": 10.5, "labelPadding": 11}},
       "color": {"field": "s", "type": "nominal", "title": null}
      }}
    ]}
  ], "spacing": 0, "bounds": "flush", "resolve": {"scale": {"color": "independent"}, "legend": {"color": "independent"}}},
 {"width": 1, "height": 236, "data": {"values": []}, "mark": "point"},
 {"width": 658, "height": 1, "data": {"values": []}, "mark": "point", "view": {"fill": "#8c8c8c", "stroke": null},
  "title": {"text": "资料来源：Wind、国泰君安期货研究", "orient": "bottom", "fontSize": 9.5, "color": "#333333", "offset": 5, "dx": 3}},
 {"width": 1, "height": 64, "data": {"values": []}, "mark": "point"},
 {"hconcat": [
   {"width": 323, "height": 1, "data": {"values": []}, "mark": "point", "view": {"fill": "#8c8c8c", "stroke": null},
    "title": {"text": "图 17：上证 50ETF 期权全合约 PCR", "fontSize": 13.5, "offset": 4, "dx": 3}},
   {"width": 322, "height": 1, "data": {"values": []}, "mark": "point", "view": {"fill": "#8c8c8c", "stroke": null},
    "title": {"text": "图 18：上证 50ETF 期权主力合约偏度走势图", "fontSize": 13.5, "offset": 4, "dx": 3}}
  ], "spacing": 13, "bounds": "flush"},
 {"width": 1, "height": 16, "data": {"values": []}, "mark": "point"},
 {"hconcat": [
   {"width": 49, "height": 1, "data": {"values": []}, "mark": "point"},
   {"width": 226, "height": 147,
    "resolve": {"scale": {"y": "independent"}},
    "layer": [
     {"data": {"name": "etf"}, "mark": {"type": "area", "opacity": 1},
      "encoding": {
       "x": {"field": "d", "type": "temporal", "scale": {"type": "utc", "domain": [{"year":2023,"month":1,"date":1,"utc":true},{"year":2023,"month":6,"date":5,"utc":true}]},
             "axis": {"title": null, "labelOverlap": false, "values": [{"year":2023,"month":1,"date":1,"utc":true},{"year":2023,"month":2,"date":1,"utc":true},{"year":2023,"month":3,"date":1,"utc":true},{"year":2023,"month":4,"date":1,"utc":true},{"year":2023,"month":5,"date":1,"utc":true},{"year":2023,"month":6,"date":1,"utc":true}],
                      "labelExpr": "utcFormat(datum.value, '%Y/%-m/%-d')", "labelFontSize": 12, "labelAngle": -45, "labelAlign": "right", "labelBaseline": "middle", "labelPadding": 6}},
       "y": {"field": "v", "type": "quantitative", "scale": {"domain": [2.1, 3.2], "zero": false, "nice": false},
             "axis": {"title": null, "labelOverlap": false, "values": [2.1, 2.3, 2.5, 2.7, 2.9, 3.1], "format": "~g", "labelFontSize": 12, "labelPadding": 11}},
       "y2": {"datum": 2.1},
       "color": {"datum": "510050", "type": "nominal", "title": null, "scale": {"domain": ["510050", "成交量PCR", "持仓量PCR"], "range": ["#8db4c7", "#f3bb1c", "#1f3875"]},
                 "legend": {"title": null, "orient": "none", "legendX": -17.5, "legendY": 197, "direction": "horizontal", "symbolType": "stroke", "symbolSize": 729, "symbolStrokeWidth": 3, "labelFontSize": 12, "labelColor": "#595959", "columnPadding": 1, "labelOffset": 0,
                   "encode": {"symbols": {"update": {"opacity": {"value": 1}, "strokeWidth": {"value": 3},
                     "shape": {"signal": "(datum.value === '510050' ? 'M-0.9,-0.12H0.9V0.12H-0.9Z' : 'stroke')"},
                     "fill": {"signal": "(datum.value === '510050' ? '#8db4c7' : 'transparent')"},
                     "stroke": {"signal": "(datum.value === '510050' ? '#8db4c7' : datum.value === '成交量PCR' ? '#f3bb1c' : '#1f3875')"}}}}}}
      }},
     {"data": {"name": "c17"}, "mark": {"type": "line", "strokeWidth": 3},
      "encoding": {
       "x": {"field": "d", "type": "temporal"},
       "y": {"field": "v", "type": "quantitative", "scale": {"domain": [0, 1.6], "nice": false},
             "axis": {"title": null, "labelOverlap": false, "orient": "right", "values": [0, 0.2, 0.4, 0.6, 0.8, 1, 1.2, 1.4, 1.6], "format": "~g", "labelFontSize": 12, "labelPadding": 12}},
       "color": {"field": "s", "type": "nominal", "title": null}
      }}
    ]},
   {"width": 119, "height": 1, "data": {"values": []}, "mark": "point"},
   {"vconcat": [
     {"width": 1, "height": 6, "data": {"values": []}, "mark": "point"},
     {"width": 234, "height": 163,
      "data": {"name": "c18"},
      "mark": {"type": "line", "strokeWidth": 3},
      "encoding": {
       "x": {"field": "d", "type": "temporal", "scale": {"type": "utc", "domain": [{"year":2023,"month":1,"date":1,"utc":true},{"year":2023,"month":6,"date":5,"utc":true}]},
             "axis": {"title": null, "labelOverlap": false, "values": [{"year":2023,"month":1,"date":1,"utc":true},{"year":2023,"month":4,"date":1,"utc":true}],
                      "labelExpr": "utcFormat(datum.value, '%Y/%-m/%-d')", "labelFontSize": 11.5, "labelPadding": 8}},
       "y": {"field": "v", "type": "quantitative", "scale": {"domain": [-0.3, 0.3], "nice": false},
             "axis": {"title": null, "labelOverlap": false, "values": [-0.3, -0.2, -0.1, 0, 0.1, 0.2, 0.3], "labelExpr": "replace(format(datum.value, '.0%'), '\u2212', '-')", "labelFontSize": 11.5, "labelPadding": 12,
                      "grid": true, "gridWidth": 1, "gridColor": {"condition": {"test": "datum.value === 0", "value": "#d9d9d9"}, "value": "transparent"}}},
       "color": {"datum": "主力合约偏度", "type": "nominal", "title": null, "scale": {"domain": ["主力合约偏度"], "range": ["#203c7c"]},
                 "legend": {"title": null, "orient": "none", "legendX": 50.5, "legendY": 188, "direction": "horizontal", "symbolType": "stroke", "symbolSize": 729, "symbolStrokeWidth": 3, "labelFontSize": 11.5, "labelColor": "#595959", "labelOffset": 0,
                   "encode": {"symbols": {"update": {"shape": {"value": "stroke"}, "stroke": {"value": "#203c7c"}, "strokeWidth": {"value": 3}}}}}}
      }}
    ], "spacing": 0, "bounds": "flush", "resolve": {"scale": {"color": "independent"}, "legend": {"color": "independent"}}}
  ], "spacing": 0, "bounds": "flush", "resolve": {"scale": {"color": "independent"}, "legend": {"color": "independent"}}},
 {"width": 1, "height": 236, "data": {"values": []}, "mark": "point"},
 {"hconcat": [
   {"width": 323, "height": 1, "data": {"values": []}, "mark": "point", "view": {"fill": "#8c8c8c", "stroke": null},
    "title": {"text": "资料来源：Wind、国泰君安期货研究", "orient": "bottom", "fontSize": 9.5, "color": "#333333", "offset": 5, "dx": 3}},
   {"width": 322, "height": 1, "data": {"values": []}, "mark": "point", "view": {"fill": "#8c8c8c", "stroke": null},
    "title": {"text": "资料来源：Wind、国泰君安期货研究", "orient": "bottom", "fontSize": 9.5, "color": "#333333", "offset": 5, "dx": 3}}
  ], "spacing": 13, "bounds": "flush"},
 {"width": 1, "height": 63, "data": {"values": []}, "mark": "point"},
 {"hconcat": [
   {"width": 323, "height": 1, "data": {"values": []}, "mark": "point", "view": {"fill": "#8c8c8c", "stroke": null},
    "title": {"text": "图 19：上证 50ETF 期权波动率锥", "fontSize": 13.5, "offset": 4, "dx": 3}},
   {"width": 322, "height": 1, "data": {"values": []}, "mark": "point", "view": {"fill": "#8c8c8c", "stroke": null},
    "title": {"text": "图 20：上证 50ETF 期权波动率期限结构", "fontSize": 13.5, "offset": 4, "dx": 3}}
  ], "spacing": 13, "bounds": "flush"},
 {"width": 1, "height": 9, "data": {"values": []}, "mark": "point"},
 {"hconcat": [
   {"width": 36, "height": 1, "data": {"values": []}, "mark": "point"},
   {"width": 261, "height": 176,
    "data": {"name": "c19"},
    "resolve": {"scale": {"color": "independent", "fill": "independent"}, "legend": {"color": "independent", "fill": "independent"}},
    "encoding": {
     "x": {"field": "x", "type": "quantitative", "scale": {"domain": [2, 186], "zero": false, "nice": false},
           "axis": {"title": null, "labelOverlap": false, "values": [2, 22, 42, 62, 82, 102, 122, 142, 162], "labelFontSize": 11.5, "labelPadding": 10}},
     "y": {"field": "v", "type": "quantitative", "scale": {"domain": [0, 0.4], "nice": false},
           "axis": {"title": null, "labelOverlap": false, "values": [0, 0.05, 0.1, 0.15, 0.2, 0.25, 0.3, 0.35, 0.4], "format": ".0%", "labelFontSize": 11.5, "labelPadding": 12}}
    },
    "layer": [
     {"transform": [{"filter": "datum.s === '90'"}], "mark": {"type": "line", "strokeWidth": 2.5},
      "encoding": {"color": {"field": "s", "type": "nominal", "title": null, "scale": {"domain": ["90"], "range": ["#4472c4"]},
        "legend": {"title": null, "orient": "none", "legendX": 1, "legendY": 200.5, "symbolSize": 64, "symbolStrokeWidth": 2.5, "labelFontSize": 11, "labelColor": "#595959", "labelOffset": 20,
          "encode": {"symbols": {"update": {"opacity": {"value": 1}, "strokeWidth": {"value": 2.5}, "fill": {"value": "transparent"}, "stroke": {"value": "#4472c4"}, "shape": {"value": "M-1.125,0H5.875"}}}}}}}},
     {"transform": [{"filter": "datum.s === '75'"}], "mark": {"type": "line", "strokeWidth": 2.5},
      "encoding": {"color": {"field": "s", "type": "nominal", "title": null, "scale": {"domain": ["75"], "range": ["#ffc000"]},
        "legend": {"title": null, "orient": "none", "legendX": 64, "legendY": 200.5, "symbolSize": 64, "symbolStrokeWidth": 2.5, "labelFontSize": 11, "labelColor": "#595959", "labelOffset": 20,
          "encode": {"symbols": {"update": {"opacity": {"value": 1}, "strokeWidth": {"value": 2.5}, "fill": {"value": "transparent"}, "stroke": {"value": "#ffc000"}, "shape": {"value": "M-1.125,0H5.875"}}}}}}}},
     {"transform": [{"filter": "datum.s === '50'"}], "mark": {"type": "line", "strokeWidth": 2.5},
      "encoding": {"color": {"field": "s", "type": "nominal", "title": null, "scale": {"domain": ["50"], "range": ["#4f7f31"]},
        "legend": {"title": null, "orient": "none", "legendX": 126, "legendY": 200.5, "symbolSize": 64, "symbolStrokeWidth": 2.5, "labelFontSize": 11, "labelColor": "#595959", "labelOffset": 20,
          "encode": {"symbols": {"update": {"opacity": {"value": 1}, "strokeWidth": {"value": 2.5}, "fill": {"value": "transparent"}, "stroke": {"value": "#4f7f31"}, "shape": {"value": "M-1.125,0H5.875"}}}}}}}},
     {"transform": [{"filter": "datum.s === '25'"}], "mark": {"type": "line", "strokeWidth": 2.5},
      "encoding": {"color": {"field": "s", "type": "nominal", "title": null, "scale": {"domain": ["25"], "range": ["#1f3864"]},
        "legend": {"title": null, "orient": "none", "legendX": 189, "legendY": 200.5, "symbolSize": 64, "symbolStrokeWidth": 2.5, "labelFontSize": 11, "labelColor": "#595959", "labelOffset": 20,
          "encode": {"symbols": {"update": {"opacity": {"value": 1}, "strokeWidth": {"value": 2.5}, "fill": {"value": "transparent"}, "stroke": {"value": "#1f3864"}, "shape": {"value": "M-1.125,0H5.875"}}}}}}}},
     {"transform": [{"filter": "datum.s === '10'"}], "mark": {"type": "line", "strokeWidth": 2.5},
      "encoding": {"color": {"field": "s", "type": "nominal", "title": null, "scale": {"domain": ["10"], "range": ["#a8841c"]},
        "legend": {"title": null, "orient": "none", "legendX": 1, "legendY": 220.5, "symbolSize": 64, "symbolStrokeWidth": 2.5, "labelFontSize": 11, "labelColor": "#595959", "labelOffset": 20,
          "encode": {"symbols": {"update": {"opacity": {"value": 1}, "strokeWidth": {"value": 2.5}, "fill": {"value": "transparent"}, "stroke": {"value": "#a8841c"}, "shape": {"value": "M-1.125,0H5.875"}}}}}}}},
     {"data": {"name": "c19p"}, "transform": [{"filter": "datum.s === 'HV'"}], "mark": {"type": "point", "filled": true, "shape": "square", "size": 50, "opacity": 1},
      "encoding": {"fill": {"field": "s", "type": "nominal", "title": null, "scale": {"domain": ["HV"], "range": ["#a5a5a5"]},
                 "legend": {"title": null, "orient": "none", "legendX": 64, "legendY": 220.5, "direction": "horizontal", "symbolType": "M-1.125,-0.31H5.875V0.31H-1.125Z M1.5,-0.875H3.25V0.875H1.5Z", "symbolSize": 64, "symbolStrokeWidth": 0, "symbolOpacity": 1, "symbolFillColor": "#a5a5a5", "labelFontSize": 11, "labelColor": "#595959", "labelOffset": 20,
                   "encode": {"symbols": {"update": {"opacity": {"value": 1}, "strokeWidth": {"value": 0}, "stroke": {"value": "transparent"}, "fill": {"value": "#a5a5a5"},
                     "shape": {"value": "M-1.125,-0.31H5.875V0.31H-1.125Z M1.5,-0.875H3.25V0.875H1.5Z"}}}}}}}},
     {"data": {"name": "c19p"}, "transform": [{"filter": "datum.s === 'ATM-IV'"}], "mark": {"type": "point", "filled": true, "shape": "circle", "size": 22, "opacity": 1},
      "encoding": {"fill": {"field": "s", "type": "nominal", "title": null, "scale": {"domain": ["ATM-IV"], "range": ["#c55a11"]},
                 "legend": {"title": null, "orient": "none", "legendX": 126, "legendY": 220.5, "direction": "horizontal", "symbolType": "M-1.125,-0.31H5.875V0.31H-1.125Z M1.625,0A0.75,0.75 0 1,0 3.125,0A0.75,0.75 0 1,0 1.625,0Z", "symbolSize": 64, "symbolStrokeWidth": 0, "symbolOpacity": 1, "symbolFillColor": "#c55a11", "labelFontSize": 11, "labelColor": "#595959", "labelOffset": 20,
                   "encode": {"symbols": {"update": {"opacity": {"value": 1}, "strokeWidth": {"value": 0}, "stroke": {"value": "transparent"}, "fill": {"value": "#c55a11"},
                     "shape": {"value": "M-1.125,-0.31H5.875V0.31H-1.125Z M1.625,0A0.75,0.75 0 1,0 3.125,0A0.75,0.75 0 1,0 1.625,0Z"}}}}}}}}
    ]},
   {"width": 83, "height": 1, "data": {"values": []}, "mark": "point"},
   {"vconcat": [
     {"width": 1, "height": 13, "data": {"values": []}, "mark": "point"},
     {"width": 266, "height": 165,
      "data": {"name": "c20"},
      "encoding": {
       "x": {"field": "k", "type": "nominal", "sort": null, "scale": {"type": "point", "padding": 0.5},
             "axis": {"title": null, "labelOverlap": false, "labelAngle": 0, "labelFontSize": 11.5, "labelPadding": 8, "domain": true, "domainColor": "#bfbfbf"}},
       "y": {"field": "v", "type": "quantitative", "scale": {"domain": [0.15, 0.162], "zero": false, "nice": false},
             "axis": {"title": null, "labelOverlap": false, "values": [0.15, 0.153, 0.156, 0.159, 0.162], "format": ".1%", "labelFontSize": 11.5, "labelPadding": 6, "domain": true, "domainColor": "#bfbfbf", "ticks": true, "tickColor": "#bfbfbf", "tickSize": 4}},
       "color": {"field": "s", "type": "nominal", "title": null, "scale": {"domain": ["今日", "昨日"], "range": ["#2c4a8a", "#203864"]},
                 "legend": {"title": null, "orient": "none", "legendX": 44, "legendY": 189.5, "direction": "horizontal", "symbolType": "stroke", "symbolSize": 1225, "labelFontSize": 12, "labelColor": "#595959", "columnPadding": 12, "labelOffset": 0,
                   "encode": {"symbols": {"update": {"shape": {"value": "stroke"},
                     "stroke": {"signal": "(datum.value === '今日' ? '#2c4a8a' : '#203864')"},
                     "strokeWidth": {"signal": "(datum.value === '今日' ? 3.5 : 1.5)"},
                     "strokeDash": {"signal": "(datum.value === '昨日' ? [2, 1.5] : [1, 0])"}}}}}}
      },
      "layer": [
       {"transform": [{"filter": "datum.s === '今日'"}], "mark": {"type": "line", "strokeWidth": 3.5}},
       {"transform": [{"filter": "datum.s === '昨日'"}], "mark": {"type": "line", "strokeWidth": 1.5, "strokeDash": [2, 1.5]}}
      ]}
    ], "spacing": 0, "bounds": "flush", "resolve": {"scale": {"color": "independent"}, "legend": {"color": "independent"}}}
  ], "spacing": 0, "bounds": "flush", "resolve": {"scale": {"color": "independent", "fill": "independent"}, "legend": {"color": "independent", "fill": "independent"}}},
 {"width": 1, "height": 244, "data": {"values": []}, "mark": "point"},
 {"hconcat": [
   {"width": 323, "height": 1, "data": {"values": []}, "mark": "point", "view": {"fill": "#8c8c8c", "stroke": null},
    "title": {"text": "资料来源：Wind、国泰君安期货研究", "orient": "bottom", "fontSize": 9.5, "color": "#333333", "offset": 5, "dx": 3}},
   {"width": 322, "height": 1, "data": {"values": []}, "mark": "point", "view": {"fill": "#8c8c8c", "stroke": null},
    "title": {"text": "资料来源：Wind、国泰君安期货研究", "orient": "bottom", "fontSize": 9.5, "color": "#333333", "offset": 5, "dx": 3}}
  ], "spacing": 13, "bounds": "flush"},
 {"width": 1, "height": 56, "data": {"values": []}, "mark": "point"},
 {"hconcat": [
   {"width": 627, "height": 1, "data": {"values": []}, "mark": "point", "view": {"fill": "#4d4d4d", "stroke": null},
    "title": {"text": "请务必阅读正文之后的免责条款部分", "orient": "bottom", "fontSize": 12.5, "color": "#222222", "offset": 5, "dx": 3}},
   {"width": 31, "height": 1, "data": {"values": []}, "mark": "point", "view": {"fill": "#a6a6a6", "stroke": null},
    "title": {"text": "6", "orient": "bottom", "anchor": "end", "fontSize": 12.5, "color": "#222222", "offset": 5, "dx": -2}}
  ], "spacing": 0, "bounds": "flush"}
]
}
